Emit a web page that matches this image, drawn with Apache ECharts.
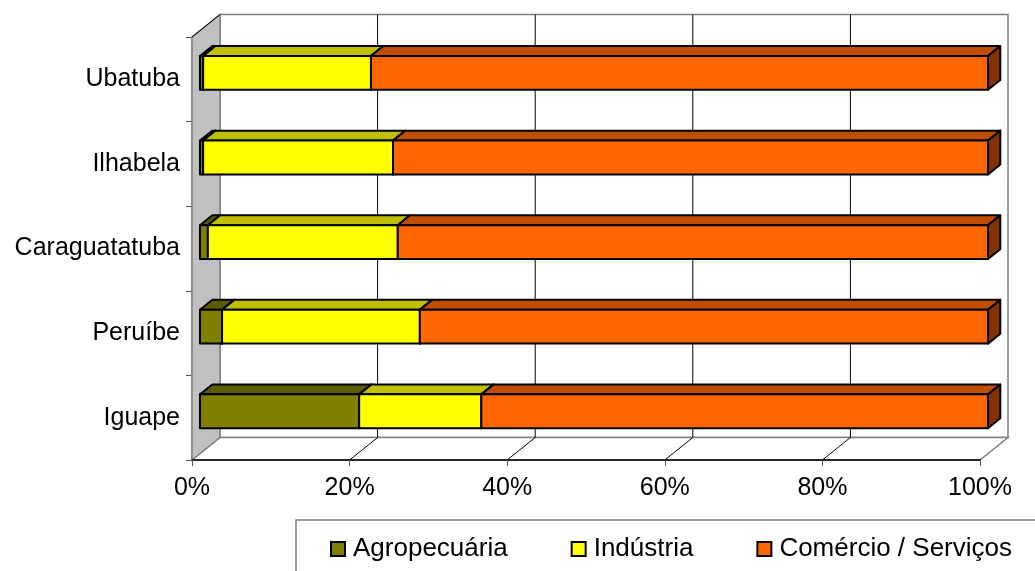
<!DOCTYPE html>
<html>
<head>
<meta charset="utf-8">
<script src="https://cdn.jsdelivr.net/npm/echarts@6/dist/echarts.min.js"></script>
<style>
  html, body { margin: 0; padding: 0; background: #fff; }
  #chart { width: 1035px; height: 571px; }
</style>
</head>
<body>
<div id="chart"></div>
<script>
// categories bottom -> top
const cities = ["Iguape", "Peruíbe", "Caraguatatuba", "Ilhabela", "Ubatuba"];
const agro = [20.2, 2.8, 1.0, 0.4, 0.4];
const industria = [15.5, 25.1, 24.1, 24.1, 21.3];
const comercio = [64.3, 72.1, 74.9, 75.5, 78.3];
const xTicks = [0, 20, 40, 60, 80, 100];

const FONT = "'Liberation Sans', Arial, sans-serif";
// 3d box depth (pixels) and the slice of it the bars sit in
const DX = 28, DY = -22.5;
const BAR_FRONT = 0.285, BAR_DEPTH = 0.44;

const faces = {
  agro: { front: "#808000", top: "#5c5c00", side: "#404000" },
  ind: { front: "#ffff00", top: "#c0c000", side: "#808000" },
  com: { front: "#ff6600", top: "#c04d00", side: "#803300" },
};

function stackData(vals, below) {
  return vals.map((v, i) => {
    let base = 0;
    for (const b of below) base += b[i];
    return [base, v, i];
  });
}

function barRenderer(f) {
  return function (params, api) {
    const base = api.value(0), v = api.value(1), cat = api.value(2);
    const s = api.coord([base, cat]);
    const e = api.coord([base + v, cat]);
    const band = api.size([0, 1])[1];
    const h = band * 0.4;
    const ox = DX * BAR_FRONT, oy = DY * BAR_FRONT;
    const bx = DX * BAR_DEPTH, by = DY * BAR_DEPTH;
    const x0 = s[0] + ox, x1 = e[0] + ox;
    const yt = s[1] + oy - h / 2, yb = s[1] + oy + h / 2;
    const line = { stroke: "#000", lineWidth: 2, lineJoin: "round" };
    return {
      type: "group",
      children: [
        { type: "polygon", shape: { points: [[x0, yt], [x1, yt], [x1 + bx, yt + by], [x0 + bx, yt + by]] },
          style: Object.assign({ fill: f.top }, line) },
        { type: "polygon", shape: { points: [[x1, yt], [x1 + bx, yt + by], [x1 + bx, yb + by], [x1, yb]] },
          style: Object.assign({ fill: f.side }, line) },
        { type: "rect", shape: { x: x0, y: yt, width: x1 - x0, height: h },
          style: Object.assign({ fill: f.front }, line) },
      ],
    };
  };
}

function wallRenderer(params, api) {
  const cs = params.coordSys;
  const L = cs.x, T = cs.y, B = cs.y + cs.height;
  const R = api.coord([100, 0])[0];
  const gray = "#808080";
  const kids = [
    // back wall
    { type: "rect", shape: { x: L + DX, y: T + DY, width: R - L, height: B - T },
      style: { fill: "#fff", stroke: gray, lineWidth: 1.5 } },
    // floor
    { type: "polygon", shape: { points: [[L, B], [L + DX, B + DY], [R + DX, B + DY], [R, B]] },
      style: { fill: "#fff", stroke: gray, lineWidth: 1.5 } },
  ];
  xTicks.forEach((t) => {
    if (t === 0 || t === 100) return;
    const x = api.coord([t, 0])[0];
    kids.push({ type: "line", shape: { x1: x + DX, y1: T + DY, x2: x + DX, y2: B + DY },
      style: { stroke: "#000", lineWidth: 1 } });
    kids.push({ type: "line", shape: { x1: x, y1: B, x2: x + DX, y2: B + DY },
      style: { stroke: "#000", lineWidth: 1 } });
  });
  // side wall
  kids.push({ type: "polygon", shape: { points: [[L, T], [L + DX, T + DY], [L + DX, B + DY], [L, B]] },
    style: { fill: "#c0c0c0", stroke: gray, lineWidth: 1.5 } });
  kids.push({ type: "line", shape: { x1: L, y1: T, x2: L + DX, y2: T + DY },
    style: { stroke: "#000", lineWidth: 1 } });
  return { type: "group", children: kids };
}

const chart = echarts.init(document.getElementById("chart"), null, { renderer: "canvas" });
chart.setOption({
  animation: false,
  backgroundColor: "#fff",
  textStyle: { fontFamily: FONT },
  grid: { left: 192, right: 55, top: 37, bottom: 111, containLabel: false },
  legend: {
    data: ["Agropecuária", "Indústria", "Comércio / Serviços"],
    left: 296, top: 520, width: 720,
    padding: [16, 40, 30, 34],
    borderColor: "#808080", borderWidth: 1.5,
    itemWidth: 14, itemHeight: 14, itemGap: 63,
    icon: "rect",
    textStyle: { fontSize: 26, color: "#000", fontFamily: FONT, padding: [0, 0, 0, 3] },
  },
  xAxis: {
    type: "value", min: 0, max: 100, interval: 20, z: 5,
    axisLine: { show: true, lineStyle: { color: "#000", width: 1.5 } },
    axisTick: { show: true, length: 6, lineStyle: { color: "#555" } },
    splitLine: { show: false },
    axisLabel: { formatter: "{value}%", fontSize: 25, color: "#000", margin: 16, fontFamily: FONT },
  },
  yAxis: {
    type: "category", data: cities,
    axisLine: { show: true, lineStyle: { color: "#808080", width: 1.5 } },
    axisTick: { show: true, length: 6, lineStyle: { color: "#555" } },
    axisLabel: { fontSize: 25, color: "#000", margin: 12, fontFamily: FONT },
  },
  series: [
    { type: "custom", name: "walls", z: 1, clip: false, silent: true,
      renderItem: wallRenderer, data: [[0, 0, 0]] },
    { type: "custom", name: "Agropecuária", z: 2, clip: false,
      itemStyle: { color: faces.agro.front, borderColor: "#000", borderWidth: 1 },
      renderItem: barRenderer(faces.agro), data: stackData(agro, []) },
    { type: "custom", name: "Indústria", z: 2, clip: false,
      itemStyle: { color: faces.ind.front, borderColor: "#000", borderWidth: 1 },
      renderItem: barRenderer(faces.ind), data: stackData(industria, [agro]) },
    { type: "custom", name: "Comércio / Serviços", z: 2, clip: false,
      itemStyle: { color: faces.com.front, borderColor: "#000", borderWidth: 1 },
      renderItem: barRenderer(faces.com), data: stackData(comercio, [agro, industria]) },
  ],
});
</script>
</body>
</html>
